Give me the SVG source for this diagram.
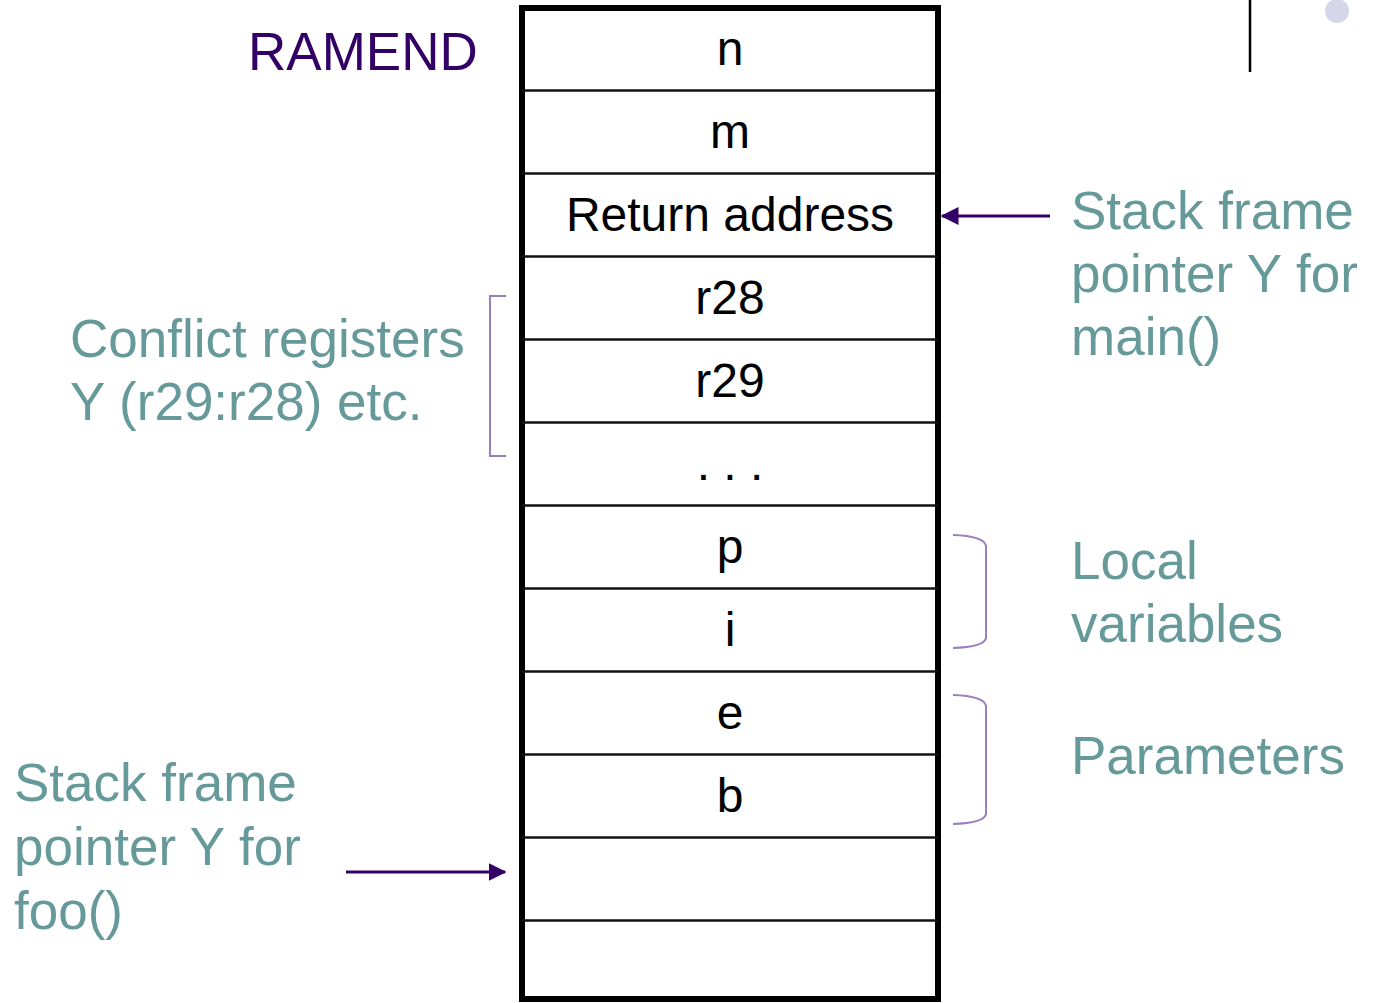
<svg xmlns="http://www.w3.org/2000/svg" width="1377" height="1003" viewBox="0 0 1377 1003">
<style>
.cell{font-family:"Liberation Sans",Arial,sans-serif;font-size:48px;fill:#000;text-anchor:middle}
.note{font-family:"Liberation Sans",Arial,sans-serif;font-size:53px;fill:#669999}
.ram{font-family:"Liberation Sans",Arial,sans-serif;font-size:53px;fill:#330066}
.row{stroke:#111;stroke-width:2.5}
.brace{fill:none;stroke:#9580bd;stroke-width:2}
.conn{stroke:#330066;stroke-width:3;fill:none}
</style>
<defs>
<marker id="ah" markerWidth="6" markerHeight="6" refX="5.5" refY="3" orient="auto" markerUnits="strokeWidth">
<path d="M0,0 L6,3 L0,6 Z" fill="#330066"/>
</marker>
</defs>
<rect width="1377" height="1003" fill="#fff"/>
<line x1="1250" y1="0" x2="1250" y2="72" stroke="#000" stroke-width="2.5"/>
<circle cx="1337" cy="11" r="12" fill="#d6d6ea"/>
<g id="stack">
<rect x="522" y="8" width="416" height="991" fill="#fff" stroke="#000" stroke-width="6"/>
<line class="row" x1="522" y1="90.5" x2="938" y2="90.5"/>
<line class="row" x1="522" y1="173.5" x2="938" y2="173.5"/>
<line class="row" x1="522" y1="256.5" x2="938" y2="256.5"/>
<line class="row" x1="522" y1="339.5" x2="938" y2="339.5"/>
<line class="row" x1="522" y1="422.5" x2="938" y2="422.5"/>
<line class="row" x1="522" y1="505.5" x2="938" y2="505.5"/>
<line class="row" x1="522" y1="588.5" x2="938" y2="588.5"/>
<line class="row" x1="522" y1="671.5" x2="938" y2="671.5"/>
<line class="row" x1="522" y1="754.5" x2="938" y2="754.5"/>
<line class="row" x1="522" y1="837.5" x2="938" y2="837.5"/>
<line class="row" x1="522" y1="920.5" x2="938" y2="920.5"/>
</g>
<g id="cell-n"><text class="cell" x="730" y="65">n</text></g>
<g id="cell-m"><text class="cell" x="730" y="148">m</text></g>
<g id="cell-ret"><text class="cell" x="730" y="231">Return address</text></g>
<g id="cell-r28"><text class="cell" x="730" y="314">r28</text></g>
<g id="cell-r29"><text class="cell" x="730" y="397">r29</text></g>
<g id="cell-dots"><text class="cell" x="730" y="480">. . .</text></g>
<g id="cell-p"><text class="cell" x="730" y="563">p</text></g>
<g id="cell-i"><text class="cell" x="730" y="646">i</text></g>
<g id="cell-e"><text class="cell" x="730" y="729">e</text></g>
<g id="cell-b"><text class="cell" x="730" y="812">b</text></g>
<g id="ramend"><text class="ram" x="248" y="70">RAMEND</text></g>
<g id="main-label"><text class="note" x="1071" y="229"><tspan x="1071">Stack frame</tspan><tspan x="1071" y="292">pointer Y for</tspan><tspan x="1071" y="355">main()</tspan></text></g>
<g id="conflict-label"><text class="note" x="70" y="357"><tspan x="70">Conflict registers</tspan><tspan x="70" y="420">Y (r29:r28) etc.</tspan></text></g>
<g id="local-label"><text class="note" x="1071" y="579"><tspan x="1071">Local</tspan><tspan x="1071" y="642">variables</tspan></text></g>
<g id="param-label"><text class="note" x="1071" y="774">Parameters</text></g>
<g id="foo-label"><text class="note" x="14" y="801"><tspan x="14">Stack frame</tspan><tspan x="14" y="865">pointer Y for</tspan><tspan x="14" y="929">foo()</tspan></text></g>
<g id="connectors">
<line class="conn" x1="1050" y1="216" x2="942" y2="216" marker-end="url(#ah)"/>
<line class="conn" x1="346" y1="872" x2="505" y2="872" marker-end="url(#ah)"/>
<path class="brace" d="M506,296 H490 V456 H506"/>
<path class="brace" d="M953,535 Q984,536 986,546 V638 Q984,647 953,648"/>
<path class="brace" d="M953,695 Q984,696 986,706 V814 Q984,823 953,824"/>
</g>
</svg>
